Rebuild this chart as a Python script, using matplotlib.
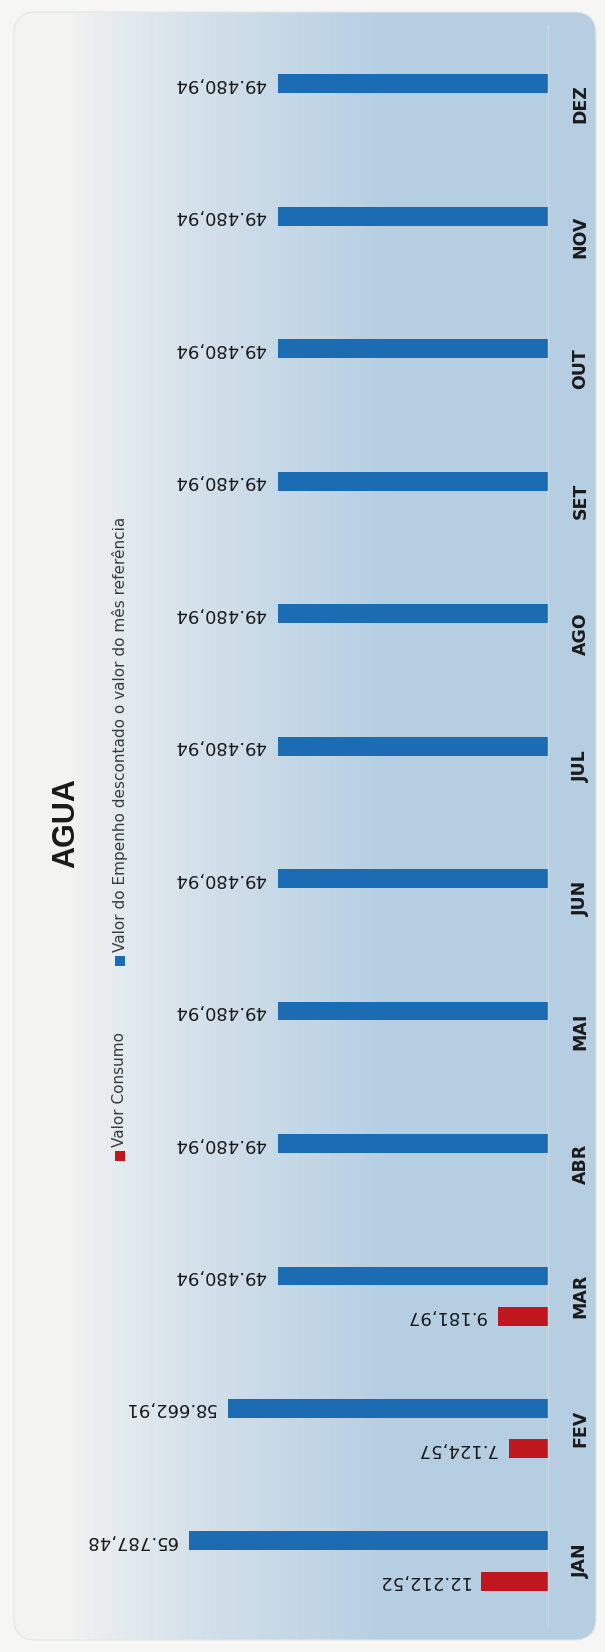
"""AGUA — consumo x empenho por mês (gráfico de colunas digitalizado, girado 90°)."""
import numpy as np
import matplotlib
matplotlib.use("Agg")
import matplotlib.pyplot as plt
from matplotlib.patches import FancyBboxPatch, Rectangle

# dados
months = ["JAN", "FEV", "MAR", "ABR", "MAI", "JUN", "JUL", "AGO", "SET", "OUT", "NOV", "DEZ"]
consumo = [12212.52, 7124.57, 9181.97, None, None, None, None, None, None, None, None, None]
empenho = [65787.48, 58662.91, 49480.94, 49480.94, 49480.94, 49480.94,
           49480.94, 49480.94, 49480.94, 49480.94, 49480.94, 49480.94]
legend_labels = ["Valor Consumo", "Valor do Empenho descontado o valor do mês referência"]
title = "AGUA"

RED = "#c0161d"
BLUE = "#1b6cb3"
W, H = 605, 1652


def br(v):
    return f"{v:,.2f}".replace(",", "X").replace(".", ",").replace("X", ".")


fig = plt.figure(figsize=(W / 100, H / 100), dpi=100, facecolor="#f6f6f4")

# fundo: painel arredondado com degradê branco -> azul claro
bg = fig.add_axes([0, 0, 1, 1])
bg.set_xlim(0, W)
bg.set_ylim(0, H)
bg.axis("off")
grad = np.clip((np.linspace(0, W, 300) - 70) / 320, 0, 1) ** 0.75
c0 = np.array([0.955, 0.958, 0.950])
c1 = np.array([0.715, 0.81, 0.89])
img = c0 + (c1 - c0) * grad[:, None]
panel = FancyBboxPatch((14, 12), 582, 1628, boxstyle="round,pad=0,rounding_size=22",
                       fc="none", ec="#e4e6e4", lw=0.8, transform=bg.transData)
bg.add_patch(panel)
im = bg.imshow(img[None, :, :], extent=(0, W, 0, H), aspect="auto")
im.set_clip_path(panel)

# eixo principal (barras horizontais; coluna original girada)
px_per_unit = 5.45 / 1000
base = 548
ax = fig.add_axes([0, 0, base / W, 1])
ax.patch.set_alpha(0)
ax.set_xlim(base / px_per_unit, 0)
ax.set_ylim(-91 / 132.45, 11 + 104 / 132.45)

y = np.arange(len(months))
off, hgt = 0.152, 0.142
for i, v in enumerate(consumo):
    if v is None:
        continue
    ax.barh(y[i] - off, v, height=hgt, color=RED)
    ax.annotate(br(v), (v, y[i] - off), xytext=(-9, 0), textcoords="offset points",
                rotation=180, ha="right", va="center", fontsize=13, color="#1a1a1a")
ax.barh(y + off, empenho, height=hgt, color=BLUE)
for i, v in enumerate(empenho):
    ax.annotate(br(v), (v, y[i] + off), xytext=(-9, 0), textcoords="offset points",
                rotation=180, ha="right", va="center", fontsize=13, color="#1a1a1a")

ax.yaxis.tick_right()
ax.set_yticks(y)
ax.set_yticklabels(months, rotation=90, va="center", fontsize=12.5, fontweight="bold",
                   color="#1a1a1a")
ax.tick_params(axis="y", length=0, pad=17)
ax.set_xticks([])
for s in ["left", "top", "bottom"]:
    ax.spines[s].set_visible(False)
ax.spines["right"].set_color("#cbd9e4")
ax.spines["right"].set_linewidth(1.0)
ax.spines["right"].set_bounds(-0.5, 11.6)

# título e legenda
fig.text(66 / W, 1 - 823 / H, title, rotation=90, ha="center", va="center",
         fontsize=22, fontweight="bold", family="Liberation Sans", color="#1a1a1a")
for (sq_y, col), lab in zip([(1156, RED), (961, BLUE)], legend_labels):
    fig.patches.append(Rectangle(((120 - 5) / W, 1 - (sq_y + 5) / H), 10 / W, 10 / H,
                                 transform=fig.transFigure, fc=col, ec="none"))
    fig.text(120 / W, 1 - (sq_y - 9) / H, lab, rotation=90, ha="center", va="bottom",
             fontsize=11, color="#3a3a3a")

fig.savefig("out.png", dpi=100)
plt.close(fig)
